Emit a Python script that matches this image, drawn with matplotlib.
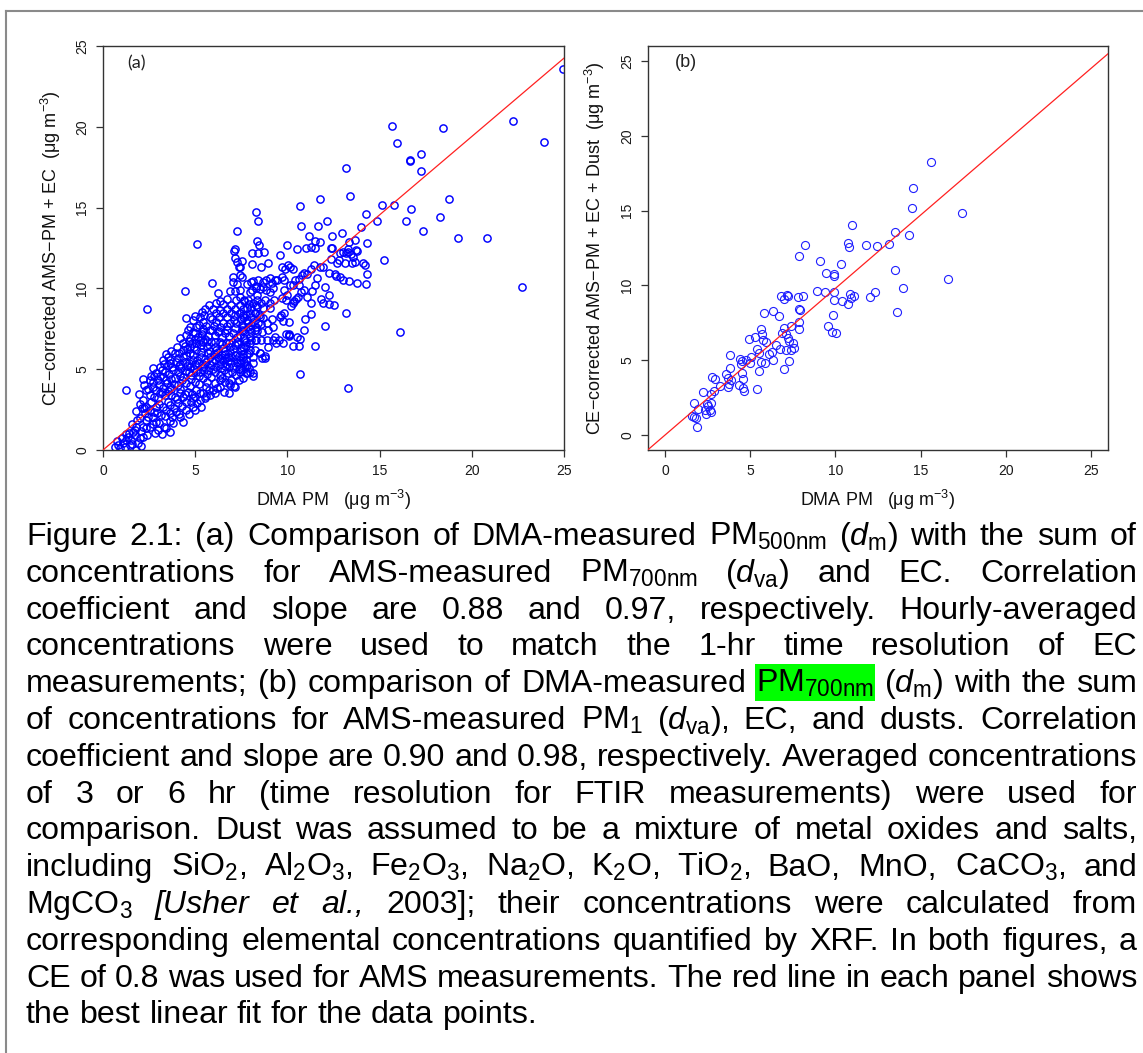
import matplotlib
matplotlib.use("Agg")
import matplotlib.pyplot as plt
from matplotlib.lines import Line2D
from matplotlib.patches import Rectangle
from matplotlib.transforms import IdentityTransform

plt.rcParams['font.family'] = ['Liberation Sans', 'DejaVu Sans']
plt.rcParams['mathtext.fontset'] = 'custom'
plt.rcParams['mathtext.rm'] = 'Liberation Sans'
plt.rcParams['mathtext.it'] = 'Liberation Sans:italic'
plt.rcParams['mathtext.bf'] = 'Liberation Sans:bold'

# ---------------- panel (a): DMA PM vs CE-corrected AMS-PM + EC ----------------
a_x_sparse = [24.95, 22.25, 23.91, 22.70, 20.85, 19.23, 18.79, 18.25, 18.42, 15.65,
              15.97, 16.63, 16.67, 17.23, 17.23, 17.36, 16.72, 16.44, 15.80, 15.11,
              15.22, 14.86, 14.24, 14.01, 14.30, 14.28, 13.78, 13.20, 13.37, 13.20,
              13.31, 16.11, 12.06, 11.50, 10.67, 11.75, 10.67, 10.75, 11.64, 12.16,
              12.95, 12.43, 11.16, 8.32, 8.40, 7.26, 5.09, 2.39, 4.43, 5.93,
              1.25,
              8.34, 8.48, 10.00, 10.54, 11.03, 11.27, 11.48, 11.77, 12.42, 7.14,
              13.36, 13.67, 13.29, 13.70]
a_y_sparse = [23.55, 20.37, 19.07, 10.06, 13.09, 13.13, 15.51, 14.41, 19.92, 20.06,
              19.01, 17.94, 17.86, 18.31, 17.28, 13.53, 14.89, 14.14, 15.13, 15.18,
              11.75, 14.14, 14.58, 13.81, 12.80, 10.27, 10.31, 17.44, 15.73, 8.49,
              3.81, 7.30, 7.69, 6.43, 4.72, 15.53, 15.07, 13.84, 13.88, 14.16,
              13.40, 13.24, 13.24, 14.74, 14.19, 13.57, 12.74, 8.70, 9.84, 10.31,
              3.71,
              12.92, 12.67, 12.71, 12.46, 12.50, 12.56, 12.91, 12.87, 12.52, 12.42,
              12.89, 13.01, 12.42, 12.38]

a_x_mid = [8.10, 8.39, 8.73, 9.62, 11.49, 12.35, 13.30, 13.18, 13.03, 12.85,
           13.43, 13.76, 13.58, 13.69, 12.82, 12.67, 13.13, 13.50, 14.12, 14.19,
           14.30, 13.32, 13.00, 12.60, 12.62, 12.85, 12.24, 12.35, 11.91, 11.77,
           11.42, 11.30, 11.08, 10.92, 10.77, 10.63, 10.61, 10.74, 10.88, 11.05,
           11.28, 11.33, 11.51, 11.59, 11.82, 11.91, 12.24, 12.24, 12.55, 12.05,
           10.92, 11.30, 10.97, 10.67, 10.61, 10.32, 10.11, 9.93, 10.07, 9.74,
           9.62, 9.67, 9.80, 10.09, 10.21, 10.29, 10.38, 10.45, 10.57, 9.93,
           9.69, 9.98, 9.79, 10.14, 10.32, 10.41, 9.79, 9.42, 9.17, 9.35,
           9.69, 9.89, 10.14, 10.32, 10.05, 9.69, 8.93, 8.57, 8.06, 9.06,
           8.84, 8.70, 8.42, 8.30, 8.12, 8.06, 8.28, 8.51, 8.70, 8.84,
           9.06, 9.24, 7.79, 7.52, 7.43, 7.52, 7.43, 7.63, 7.88, 7.79,
           8.12, 8.33, 8.57, 8.81, 9.04, 9.29, 9.04, 8.70, 8.33, 7.97,
           8.24, 8.46, 8.66, 9.15, 8.91, 8.55, 8.15, 7.79, 7.61, 7.43,
           7.52, 7.88, 8.24, 8.60, 8.97, 9.24, 9.33, 9.24, 8.88, 8.57,
           8.24, 7.97, 7.70, 7.61, 7.97, 8.24, 8.51, 8.78, 8.60, 8.15,
           7.61, 7.43, 7.79, 7.52, 7.83, 8.12, 8.15]
a_y_mid = [12.17, 12.21, 12.25, 12.09, 12.50, 12.50, 12.27, 12.17, 12.25, 12.17,
           12.13, 12.33, 11.96, 11.63, 11.76, 11.59, 11.55, 11.59, 11.55, 11.43,
           10.89, 10.48, 10.52, 10.89, 10.77, 10.72, 10.93, 11.80, 11.34, 11.34,
           11.43, 11.22, 10.87, 10.97, 10.81, 10.61, 10.23, 9.80, 9.88, 9.49,
           9.12, 9.86, 10.19, 10.62, 9.32, 9.08, 9.61, 9.06, 9.00, 10.11,
           7.45, 8.44, 8.09, 6.87, 6.45, 6.45, 7.05, 7.16, 7.20, 7.98,
           8.25, 8.35, 8.46, 7.93, 8.89, 9.08, 9.24, 9.32, 9.49, 9.28,
           9.39, 9.61, 9.90, 10.21, 10.21, 10.52, 10.52, 10.52, 10.31, 10.52,
           10.68, 11.20, 11.34, 11.18, 11.45, 11.30, 11.55, 11.34, 11.51, 10.62,
           10.52, 10.42, 10.52, 10.15, 10.44, 9.90, 10.00, 9.94, 10.11, 9.90,
           9.80, 10.05, 10.25, 10.72, 11.34, 11.71, 9.90, 9.28, 9.28, 8.76,
           9.07, 9.28, 9.07, 9.28, 9.11, 9.28, 8.76, 8.76, 8.82, 8.45,
           8.45, 8.35, 8.14, 8.09, 7.88, 7.80, 7.95, 8.05, 8.35, 8.46,
           7.73, 7.63, 7.43, 7.32, 7.43, 7.59, 7.01, 6.81, 6.81, 6.81,
           6.81, 6.60, 6.81, 6.40, 6.19, 6.19, 5.99, 5.82, 5.68, 5.78,
           5.78, 5.37, 5.27, 4.94, 4.78, 4.74, 4.60]

a_x_core = [7.05, 8.04, 7.14, 6.87, 7.41, 7.95, 8.37, 6.24, 6.33, 5.75,
            6.15, 6.51, 6.92, 7.41, 7.90, 8.32, 5.37, 5.24, 4.52, 4.88,
            5.42, 5.78, 6.15, 6.51, 6.96, 7.41, 7.77, 8.22, 8.50, 6.15,
            6.51, 6.87, 7.23, 7.59, 8.04, 8.41, 5.06, 5.42, 5.78, 6.24,
            6.60, 7.05, 7.41, 7.95, 8.32, 7.77, 4.74, 5.15, 5.51, 5.87,
            6.33, 6.69, 7.14, 7.50, 3.43, 3.89, 4.34, 4.70, 5.06, 5.42,
            5.78, 6.24, 6.60, 6.96, 7.41, 7.77, 8.13, 7.95, 7.77, 7.14,
            6.87, 7.38, 6.33, 5.78, 5.33, 4.34, 3.62, 2.98, 4.19, 3.80,
            3.43, 3.29, 2.89, 2.53, 2.17, 1.90, 1.99, 1.81, 1.72, 1.36,
            1.27, 1.08, 0.81, 0.63, 0.90, 1.54, 1.45, 1.63, 1.81, 2.17,
            2.35, 2.71, 3.16, 3.62, 3.98, 4.52, 4.88, 5.24, 1.99, 2.26,
            2.53, 2.89, 3.25, 3.62, 4.07, 4.52, 4.88, 5.42, 5.97, 6.33,
            2.35, 2.62, 2.98, 3.34, 3.71, 4.16, 4.61, 5.06, 5.60, 6.06,
            6.60, 2.17, 2.53, 2.89, 3.25, 3.62, 4.07, 4.52, 4.97, 5.42,
            5.87, 6.33, 6.78, 7.23, 2.35, 2.71, 2.53, 2.98, 3.43, 3.89,
            4.34, 4.79, 5.24, 5.69, 6.15, 6.60, 7.05, 7.50, 2.89, 3.34,
            3.80, 4.25, 4.70, 5.15, 5.60, 6.06, 6.51, 6.96, 3.07, 3.52,
            3.98, 4.43, 4.88, 5.33, 5.78, 6.24, 6.69, 7.14, 7.59, 4.34,
            4.70, 5.06, 5.42, 4.88, 4.52, 4.34, 3.62, 3.25,
            6.82, 7.11, 3.66, 8.94, 8.52, 8.77, 9.36, 9.77, 9.56, 10.06,
            10.50, 7.11, 7.15, 7.28, 7.36, 7.05, 7.26, 7.44]
a_y_core = [10.42, 10.42, 9.84, 9.84, 9.49, 9.76, 9.59, 9.74, 9.24, 8.97,
            9.08, 9.03, 8.97, 8.97, 9.03, 8.97, 8.56, 8.25, 8.15, 8.04,
            7.94, 8.21, 8.45, 8.50, 8.45, 8.50, 8.35, 8.50, 8.25, 7.94,
            7.84, 7.88, 7.84, 7.63, 7.73, 7.84, 7.63, 7.47, 7.43, 7.32,
            7.22, 7.26, 7.12, 7.01, 6.81, 6.70, 6.91, 7.01, 6.85, 6.70,
            6.70, 6.60, 6.50, 6.29, 5.94, 5.98, 5.78, 5.98, 6.19, 6.29,
            6.15, 6.08, 5.94, 5.78, 5.57, 5.57, 5.37, 4.85, 4.79, 3.92,
            4.02, 4.33, 4.33, 3.40, 2.68, 1.75, 1.13, 1.24, 2.06, 1.65,
            1.34, 1.44, 1.75, 1.44, 0.82, 0.41, 0.72, 0.00, 0.93, 0.82,
            0.62, 0.41, 0.31, 0.21, 0.10, 0.62, 0.31, 1.13, 1.44, 1.44,
            1.86, 2.06, 2.17, 2.27, 2.37, 2.48, 2.68, 3.09, 1.96, 2.27,
            2.48, 2.68, 2.68, 2.79, 2.89, 2.99, 3.20, 3.51, 3.71, 3.92,
            2.68, 2.99, 3.20, 3.40, 3.40, 3.51, 3.61, 3.71, 3.92, 4.13,
            4.23, 3.09, 3.40, 3.71, 3.82, 3.92, 4.02, 4.13, 4.23, 4.44,
            4.54, 4.64, 4.75, 4.64, 3.71, 3.92, 4.33, 4.33, 4.33, 4.44,
            4.54, 4.64, 4.85, 4.95, 5.12, 5.20, 5.12, 5.12, 4.75, 4.85,
            4.95, 5.06, 5.16, 5.37, 5.47, 5.57, 5.57, 5.37, 5.16, 5.26,
            5.47, 5.47, 5.57, 5.78, 5.78, 5.78, 5.68, 5.88, 5.94, 6.19,
            6.39, 6.60, 6.70, 7.32, 7.12, 6.60, 5.57, 5.57,
            4.12, 3.96, 1.81, 6.39, 5.98, 5.67, 6.60, 6.60, 6.80, 7.09,
            7.01, 12.33, 11.90, 11.65, 11.34, 10.72, 10.30, 10.82]

# further points inside the densest part of the cloud
a_x_dense = [2.10, 2.75, 3.40, 3.85, 4.30, 4.75, 5.10, 5.55,
             2.00, 2.75, 3.10, 3.50, 3.90, 4.35, 4.80, 5.25, 5.75, 6.20, 6.55,
             2.20, 2.70, 3.05, 3.45, 3.85, 4.30, 4.75, 5.20, 5.65, 6.10, 6.55, 7.00, 7.45,
             2.60, 3.10, 3.60, 4.05, 4.50, 4.95, 5.40, 5.85, 6.35, 6.80, 7.25, 7.70,
             3.30, 3.75, 4.20, 4.65, 5.10, 5.55, 6.00, 6.45, 6.90, 7.35, 7.80,
             3.70, 4.10, 4.55, 4.95, 5.30, 5.65, 6.10, 6.50, 6.90, 7.30, 7.75,
             4.20, 4.65, 5.00, 5.35, 5.70, 6.05, 6.45, 6.85, 7.25, 7.60, 8.00,
             4.70, 5.20, 5.60, 6.00, 6.35, 6.75, 7.10, 7.50, 7.85, 8.30,
             5.55, 5.95, 6.35, 6.75, 7.15, 7.60, 8.05, 6.70, 7.20, 7.65,
             1.40, 1.75, 2.05, 2.35, 2.70, 3.05, 1.55, 1.20]
a_y_dense = [2.60, 2.35, 2.50, 2.60, 2.70, 2.95, 2.90, 3.20,
             2.85, 3.25, 3.55, 3.65, 3.25, 3.30, 3.45, 3.55, 3.70, 3.85, 3.60,
             4.00, 4.20, 4.05, 4.15, 4.10, 4.35, 4.40, 4.55, 4.70, 4.85, 4.95, 4.85, 4.80,
             4.60, 4.55, 4.70, 4.80, 4.90, 5.00, 5.15, 5.25, 5.35, 5.50, 5.40, 5.25,
             5.35, 5.15, 5.30, 5.40, 5.60, 5.65, 5.95, 5.90, 6.05, 5.80, 5.95,
             6.10, 6.00, 6.25, 6.35, 6.50, 6.45, 6.40, 6.30, 6.40, 6.55, 6.45,
             6.95, 6.75, 6.85, 7.20, 7.05, 7.10, 7.00, 7.05, 7.00, 7.35, 7.30,
             7.60, 7.75, 7.70, 7.65, 7.60, 7.65, 8.05, 8.10, 7.85, 7.60,
             8.70, 8.75, 8.65, 8.70, 8.75, 8.75, 8.80, 9.35, 9.30, 9.25,
             1.05, 1.25, 1.20, 1.35, 1.60, 1.70, 0.40, 0.20]

a_x_dense2 = [1.55, 1.85, 2.45, 2.95, 3.35, 3.75, 4.10, 4.65, 5.00,
              1.80, 2.25, 3.05, 3.50, 4.00, 4.45, 5.00, 5.60, 6.10, 6.85,
              1.95, 2.45, 3.20, 3.70, 4.20, 4.70, 5.20, 5.65, 6.45, 6.95, 7.60,
              2.15, 2.75, 3.25, 3.70, 4.20, 4.65, 5.05, 5.50, 5.95, 6.40, 6.85, 7.35, 7.90,
              2.70, 3.20, 3.65, 4.10, 4.55, 5.00, 5.45, 5.90, 6.35, 6.80, 7.20, 7.65,
              3.55, 4.05, 4.50, 4.90, 5.30, 5.70, 6.15, 6.60, 7.05, 7.50, 7.90,
              4.00, 4.45, 4.85, 5.25, 5.65, 6.05, 6.45, 6.85, 7.25, 7.65, 8.05,
              4.60, 5.00, 5.40, 5.90, 6.30, 6.70, 7.15, 7.55, 7.95, 8.35,
              5.00, 5.50, 5.90, 6.30, 6.70, 7.15, 7.60, 8.00,
              1.05, 0.75, 1.25, 2.05, 2.40, 2.80, 3.20]
a_y_dense2 = [1.60, 1.85, 2.05, 2.30, 2.10, 2.05, 2.25, 2.25, 2.45,
              2.40, 2.60, 2.85, 3.00, 3.15, 3.45, 3.30, 3.35, 3.50, 3.55,
              3.45, 3.75, 3.60, 3.75, 3.80, 3.95, 4.10, 4.20, 4.45, 4.35, 4.45,
              4.40, 4.55, 4.50, 4.40, 4.60, 4.80, 4.85, 4.95, 5.00, 5.05, 5.15, 5.00, 5.10,
              5.05, 4.95, 5.40, 5.20, 5.20, 5.35, 5.35, 5.50, 5.65, 5.75, 5.65, 5.45,
              5.75, 5.70, 5.85, 5.90, 6.05, 6.00, 6.20, 6.15, 6.25, 6.10, 6.00,
              6.40, 6.45, 6.60, 6.80, 6.75, 6.70, 6.55, 6.65, 6.70, 6.90, 6.80,
              7.40, 7.25, 7.35, 7.40, 7.35, 7.40, 7.55, 7.45, 7.50, 7.35,
              8.30, 8.35, 8.10, 8.20, 8.25, 8.35, 8.25, 8.20,
              0.75, 0.55, 1.00, 0.25, 0.90, 1.05, 1.00]

# ---------------- panel (b): DMA PM vs CE-corrected AMS-PM + EC + Dust ----------------
b_x = [15.63, 14.56, 14.52, 17.43, 11.00, 13.49, 14.33, 8.22, 10.75, 10.81,
       11.78, 12.44, 13.17, 7.88, 9.12, 10.34, 13.51, 9.44, 9.91, 9.89,
       16.62, 13.94, 8.91, 9.40, 9.89, 12.33, 10.86, 11.09, 10.90, 12.03,
       9.89, 10.36, 10.71, 13.60, 6.81, 6.96, 7.15, 7.24, 7.79, 8.09,
       7.88, 7.94, 5.82, 6.32, 6.70, 7.88, 7.86, 9.87, 9.59, 9.80,
       10.06, 7.00, 7.37, 7.11, 7.19, 7.26, 7.52, 6.89, 5.65, 5.67,
       5.74, 5.95, 4.90, 5.27, 6.53, 6.74, 7.09, 7.37, 7.58, 6.10,
       6.29, 5.40, 5.52, 5.05, 5.65, 5.85, 6.32, 7.28, 7.00, 5.50,
       3.81, 4.39, 4.52, 4.75, 4.99, 4.43, 3.79, 4.54, 3.60, 3.68,
       3.88, 3.73, 4.58, 4.60, 4.63, 4.33, 3.70, 5.37, 2.76, 2.93,
       3.23, 2.23, 2.87, 2.68, 1.69, 2.46, 2.70, 2.55, 1.95, 2.36,
       2.63, 2.72, 2.42, 1.61, 1.71, 1.84, 1.86]
b_y = [18.25, 16.54, 15.14, 14.87, 14.05, 13.56, 13.36, 12.71, 12.82, 12.60,
       12.69, 12.64, 12.80, 11.95, 11.66, 11.46, 11.06, 10.84, 10.77, 10.62,
       10.40, 9.80, 9.62, 9.53, 9.57, 9.57, 9.44, 9.26, 9.17, 9.24,
       9.04, 8.93, 8.73, 8.21, 9.26, 9.11, 9.35, 9.31, 9.24, 9.28,
       8.39, 8.35, 8.17, 8.26, 7.93, 7.57, 7.08, 7.99, 7.30, 6.90,
       6.79, 7.17, 7.28, 6.72, 6.50, 6.28, 6.17, 6.81, 7.06, 6.77,
       6.32, 6.23, 6.41, 6.57, 6.01, 5.74, 5.65, 5.70, 5.79, 5.43,
       5.52, 5.74, 5.48, 5.21, 4.85, 4.83, 5.01, 4.94, 4.41, 4.27,
       5.32, 5.10, 4.96, 5.01, 4.83, 4.72, 4.47, 4.12, 4.10, 3.83,
       3.65, 3.43, 3.74, 3.12, 2.92, 3.34, 3.21, 3.05, 3.85, 3.76,
       3.27, 2.89, 2.94, 2.72, 2.11, 2.05, 2.16, 1.94, 1.71, 1.65,
       1.65, 1.56, 1.38, 1.27, 1.20, 1.16, 0.53]

# best linear fit slopes (through the origin)
slope_a = 0.97
slope_b = 0.98

axis_ticks = [0, 5, 10, 15, 20, 25]
xlabel_text = r'DMA PM   (μg m$^{-3}$)'
ylabel_a = r'CE−corrected AMS−PM + EC  (μg m$^{-3}$)'
ylabel_b = r'CE−corrected AMS−PM + EC + Dust  (μg m$^{-3}$)'

CAPTION = [
    r"Figure 2.1: (a) Comparison of DMA-measured PM$_{\mathrm{500nm}}$ ($\mathit{d}_{\mathrm{m}}$) with the sum of",
    r"concentrations for AMS-measured PM$_{\mathrm{700nm}}$ ($\mathit{d}_{\mathrm{va}}$) and EC. Correlation",
    r"coefficient and slope are 0.88 and 0.97, respectively. Hourly-averaged",
    r"concentrations were used to match the 1-hr time resolution of EC",
    r"measurements; (b) comparison of DMA-measured PM$_{\mathrm{700nm}}$ ($\mathit{d}_{\mathrm{m}}$) with the sum",
    r"of concentrations for AMS-measured PM$_{\mathrm{1}}$ ($\mathit{d}_{\mathrm{va}}$), EC, and dusts. Correlation",
    r"coefficient and slope are 0.90 and 0.98, respectively. Averaged concentrations",
    r"of 3 or 6 hr (time resolution for FTIR measurements) were used for",
    r"comparison. Dust was assumed to be a mixture of metal oxides and salts,",
    r"including SiO$_{\mathrm{2}}$, Al$_{\mathrm{2}}$O$_{\mathrm{3}}$, Fe$_{\mathrm{2}}$O$_{\mathrm{3}}$, Na$_{\mathrm{2}}$O, K$_{\mathrm{2}}$O, TiO$_{\mathrm{2}}$, BaO, MnO, CaCO$_{\mathrm{3}}$, and",
    r"MgCO$_{\mathrm{3}}$ [Usher et al., 2003]; their concentrations were calculated from",
    r"corresponding elemental concentrations quantified by XRF. In both figures, a",
    r"CE of 0.8 was used for AMS measurements. The red line in each panel shows",
    r"the best linear fit for the data points.",
]
HIGHLIGHT = (4, 5)                          # (line, word) marked in green
ITALIC_WORDS = {(10, 1), (10, 2), (10, 3)}  # citation set in italics

W, H, DPI = 1143, 1053, 100
fig = plt.figure(figsize=(W / DPI, H / DPI), dpi=DPI)
fig.patch.set_facecolor('white')


def px_axes(left, top, right, bottom):
    return fig.add_axes([left / W, 1 - bottom / H, (right - left) / W, (bottom - top) / H])


def style_axes(ax, lim):
    ax.set_xlim(lim)
    ax.set_ylim(lim)
    ax.set_xticks(axis_ticks)
    ax.set_yticks(axis_ticks)
    for s in ax.spines.values():
        s.set_color('#333333')
        s.set_linewidth(1.0)
    ax.tick_params(direction='out', length=5, width=0.9, color='#333333',
                   labelsize=10, pad=5, labelcolor='#1a1a1a')
    ax.tick_params(axis='y', labelrotation=90)
    for lab in ax.get_yticklabels():
        lab.set_va('center')


ax_a = px_axes(103, 46, 564, 450)
ax_b = px_axes(648, 46, 1108, 450)

a_x = a_x_sparse + a_x_mid + a_x_core + a_x_dense + a_x_dense2
a_y = a_y_sparse + a_y_mid + a_y_core + a_y_dense + a_y_dense2

ax_a.plot(a_x, a_y, 'o', mfc='none', mec='#0000ff', ms=5.2, mew=1.05, zorder=2)
ax_a.axline((0, 0), slope=slope_a, color='#ff2020', lw=0.9, zorder=3)
style_axes(ax_a, (0, 25))

ax_b.plot(b_x, b_y, 'o', mfc='none', mec='#1f1fff', ms=5.8, mew=0.8, zorder=2)
ax_b.axline((0, 0), slope=slope_b, color='#ff2020', lw=0.9, zorder=3)
style_axes(ax_b, (-1, 26))

for ax, ylab, yx in ((ax_a, ylabel_a, -0.087), (ax_b, ylabel_b, -0.090)):
    ax.set_xlabel(xlabel_text, fontsize=13, color='#111111')
    ax.xaxis.set_label_coords(0.5, -0.093)
    ax.set_ylabel(ylab, fontsize=13, color='#111111')
    ax.yaxis.set_label_coords(yx, 0.5)

ax_a.text(0.072, 0.958, '(a)', transform=ax_a.transAxes, ha='center', va='center',
          fontsize=13, family=['Lato', 'DejaVu Sans'], color='#222222')
ax_b.text(0.083, 0.958, '(b)', transform=ax_b.transAxes, ha='center', va='center',
          fontsize=13, color='#222222')

# outer frame of the figure box
fig.add_artist(Line2D([6 / W, 1.0], [1 - 11 / H, 1 - 11 / H], color='#8a8a8a', lw=1.5))
fig.add_artist(Line2D([6 / W, 6 / W], [0, 1 - 11 / H], color='#8a8a8a', lw=1.5))

# ---------------- justified caption ----------------
renderer = fig.canvas.get_renderer()
X0, X1 = 26.0, 1137.0
BASE0, LEAD = 545.0, 36.8


def space_px(fs):
    return 0.278 * fs * DPI / 72.0


def make_words(i, line, fs):
    objs = []
    for j, w in enumerate(line.split(' ')):
        style = 'italic' if (i, j) in ITALIC_WORDS else 'normal'
        objs.append(fig.text(0, 0, w, fontsize=fs, ha='left', va='baseline', fontstyle=style,
                             transform=IdentityTransform(), color='black', zorder=3))
    return objs


def widths(objs):
    return [t.get_window_extent(renderer).width for t in objs]


probe = make_words(6, CAPTION[6], 20)
natural = sum(widths(probe)) + (len(probe) - 1) * space_px(20)
for t in probe:
    t.remove()
fs = 20 * (X1 - X0) / natural

for i, line in enumerate(CAPTION):
    objs = make_words(i, line, fs)
    ws = widths(objs)
    if i == len(CAPTION) - 1:
        gap = space_px(fs)
    else:
        gap = (X1 - X0 - sum(ws)) / (len(objs) - 1)
    y = H - (BASE0 + i * LEAD)
    x = X0
    for j, (t, w) in enumerate(zip(objs, ws)):
        t.set_position((x, y))
        if (i, j) == HIGHLIGHT:
            fig.add_artist(Rectangle((x - 1, y - 9), w + 2, 37, transform=IdentityTransform(),
                                     facecolor='#00ff00', edgecolor='none', zorder=1))
        x += w + gap

fig.savefig('out.png', dpi=DPI, facecolor='white')
